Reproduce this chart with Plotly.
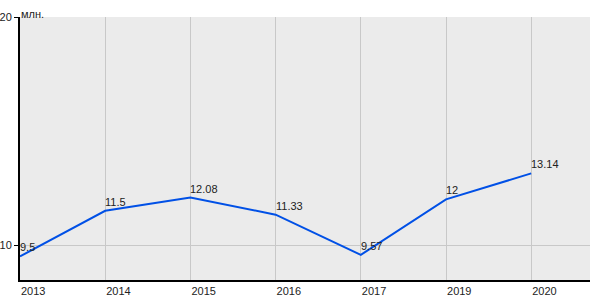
import plotly.graph_objects as go

years = ["2013", "2014", "2015", "2016", "2017", "2019", "2020"]
values = [9.5, 11.5, 12.08, 11.33, 9.57, 12.0, 13.14]
labels = ["9.5", "11.5", "12.08", "11.33", "9.57", "12", "13.14"]
y_ticks = [10, 20]
unit_label = "млн."

fig = go.Figure()
fig.add_trace(go.Scatter(
    x=years, y=values, mode="lines",
    line=dict(color="#0050E6", width=2),
    cliponaxis=False, hoverinfo="skip",
))

# category axis: annotation x given as category index
annotations = [dict(
    text=t, x=i, y=yv, xref="x", yref="y",
    xanchor="left", yanchor="bottom", showarrow=False,
    font=dict(family="Liberation Sans, Arial", size=11, color="#222222"),
    xshift=-2, yshift=1,
) for i, (yv, t) in enumerate(zip(values, labels))]

annotations.append(dict(
    text=unit_label, xref="paper", yref="paper", x=0, y=1,
    xanchor="left", yanchor="bottom", showarrow=False,
    font=dict(family="Liberation Sans, Arial", size=11, color="#222222"),
    xshift=-1, yshift=-5,
))

fig.update_layout(
    width=600, height=300,
    margin=dict(l=20, r=10, t=17, b=20),
    paper_bgcolor="white", plot_bgcolor="#EBEBEB",
    showlegend=False,
    font=dict(family="Liberation Sans, Arial", size=11, color="#222222"),
    xaxis=dict(
        type="category", range=[0, 6.69], automargin=False,
        showgrid=True, gridcolor="#C8C8C8", gridwidth=1,
        showline=True, linecolor="black", linewidth=2,
        ticks="", ticklabelposition="outside right",
        tickfont=dict(size=11, color="#222222"), zeroline=False,
    ),
    yaxis=dict(
        range=[8.465, 20], tickvals=y_ticks, ticktext=[str(v) for v in y_ticks],
        automargin=False,
        showgrid=True, gridcolor="#C8C8C8", gridwidth=1,
        showline=True, linecolor="black", linewidth=2,
        ticks="outside", ticklen=4, tickcolor="black",
        tickfont=dict(size=11, color="#222222"), zeroline=False,
    ),
    annotations=annotations,
)

fig.write_html("out.html")
